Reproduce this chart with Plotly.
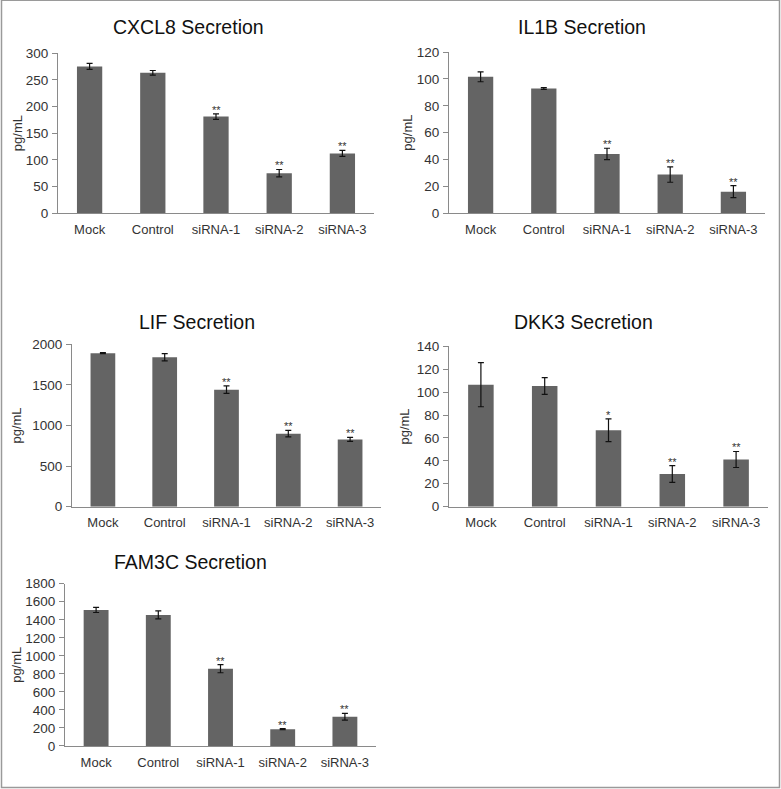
import plotly.graph_objects as go

W, H = 781, 789
CAP = 805          # height of the captured page region (picture is squeezed to H)
OFF = 8            # picture starts this many px above the viewport top
HF = CAP           # figure height
S = CAP / H        # picture px -> figure px (vertical)

categories = ["Mock", "Control", "siRNA-1", "siRNA-2", "siRNA-3"]

cxcl8_vals = [275, 263, 181, 75, 112]
cxcl8_err = [5.6, 4.4, 5, 7, 5.6]
cxcl8_sig = ["", "", "**", "**", "**"]

il1b_vals = [101.6, 92.9, 44.2, 28.8, 16.1]
il1b_err = [3.7, 0.6, 4.2, 5.7, 4.5]
il1b_sig = ["", "", "**", "**", "**"]

lif_vals = [1892, 1842, 1442, 900, 829]
lif_err = [6, 45, 46, 40, 24]
lif_sig = ["", "", "**", "**", "**"]

dkk3_vals = [106.6, 105.4, 66.8, 28.5, 41.2]
dkk3_err = [19.3, 7.3, 9.9, 7.3, 7.0]
dkk3_sig = ["", "", "*", "**", "**"]

fam3c_vals = [1509, 1454, 857, 186, 324]
fam3c_err = [28, 45, 45, 6, 37]
fam3c_sig = ["", "", "**", "**", "**"]

titles = ["CXCL8 Secretion", "IL1B Secretion", "LIF Secretion", "DKK3 Secretion", "FAM3C Secretion"]
y_ranges = [300, 120, 2000, 140, 1800]
y_dticks = [50, 20, 500, 20, 200]

panels = [
    (cxcl8_vals, cxcl8_err, cxcl8_sig),
    (il1b_vals, il1b_err, il1b_sig),
    (lif_vals, lif_err, lif_sig),
    (dkk3_vals, dkk3_err, dkk3_sig),
    (fam3c_vals, fam3c_err, fam3c_sig),
]

# pixel layout boxes in picture coords: (x0, x1, ytop, ybottom)
boxes = [
    (58, 374, 54, 214),
    (449, 765, 53, 214),
    (72, 381, 345, 507),
    (449, 768, 347, 507),
    (65, 376, 584, 746),
]
title_pos = [(188, 28), (582, 28), (197, 323), (583, 323), (190, 562)]
ylabel_x = [17, 408, 17, 405, 17]


def py(y):
    """picture y (px from top) -> paper fraction of the figure"""
    return 1 - (y * S) / HF


BAR = "#646464"
AX = "#8a8a8a"
TXT = "#333333"
FONT = "Liberation Sans, Arial, sans-serif"

fig = go.Figure()
annotations = []

for i, ((vals, errs, sig), (x0, x1, yt, yb)) in enumerate(zip(panels, boxes)):
    n = "" if i == 0 else str(i + 1)
    fig.add_trace(go.Bar(
        x=categories, y=vals,
        marker=dict(color=BAR, line=dict(width=0)),
        error_y=dict(type="data", array=errs, visible=True, color="#111111", thickness=1.2, width=3),
        xaxis="x" + n, yaxis="y" + n, showlegend=False,
    ))
    fig.layout["xaxis" + n] = dict(
        domain=[x0 / W, x1 / W], anchor="y" + n, showline=True, linecolor=AX, linewidth=1,
        ticks="", showgrid=False, zeroline=False, ticklabelstandoff=4,
        tickfont=dict(family=FONT, size=13, color=TXT),
    )
    fig.layout["yaxis" + n] = dict(
        domain=[py(yb), py(yt)], anchor="x" + n, range=[0, y_ranges[i]], dtick=y_dticks[i],
        showline=True, linecolor=AX, linewidth=1, ticks="outside", ticklen=5,
        tickcolor=AX, showgrid=False, zeroline=False,
        tickfont=dict(family=FONT, size=13.5, color=TXT), ticklabelstandoff=1,
    )
    for c, v, e, s in zip(categories, vals, errs, sig):
        if s:
            annotations.append(dict(
                x=c, y=v + e, xref="x" + n, yref="y" + n, text=s, showarrow=False,
                yanchor="bottom", yshift=-4, font=dict(family=FONT, size=11, color=TXT),
            ))
    tx, ty = title_pos[i]
    annotations.append(dict(
        x=tx / W, y=py(ty), xref="paper", yref="paper", text=titles[i],
        showarrow=False, xanchor="center", yanchor="middle",
        font=dict(family=FONT, size=19.5, color="#111111"),
    ))
    annotations.append(dict(
        x=ylabel_x[i] / W, y=py((yt + yb) / 2), xref="paper", yref="paper",
        text="pg/mL", textangle=-90, showarrow=False, xanchor="center", yanchor="middle",
        font=dict(family=FONT, size=13, color=TXT),
    ))

fig.update_layout(
    width=W, height=HF, margin=dict(l=0, r=0, t=0, b=0),
    paper_bgcolor="white", plot_bgcolor="white",
    bargap=0.6, annotations=annotations,
    shapes=[dict(type="rect", xref="paper", yref="paper", x0=1.5 / W, x1=1 - 1.5 / W,
                 y0=py(787.5), y1=py(1.2), line=dict(color="#9a9a9a", width=1.5))],
)

fig.write_html(
    "out.html",
    config={"displayModeBar": False, "staticPlot": True},
    post_script=(
        "document.documentElement.style.margin='0';"
        "document.documentElement.style.overflow='hidden';"
        "document.body.style.margin='0';document.body.style.overflow='hidden';"
        "var d=document.getElementsByClassName('plotly-graph-div')[0];"
        "d.style.position='fixed';d.style.top='-%dpx';d.style.left='0px';" % OFF
    ),
)
